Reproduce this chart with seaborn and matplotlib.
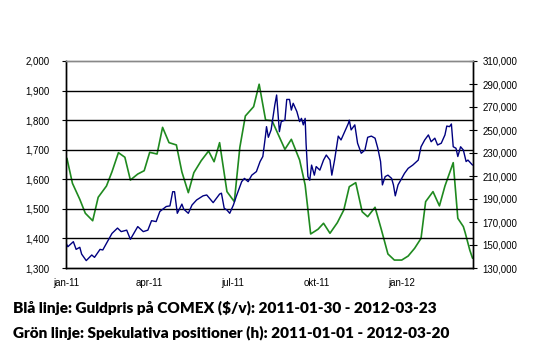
import pandas as pd
import seaborn as sns
import matplotlib.pyplot as plt

# gold price on COMEX ($/oz), days counted from 2011-01-01
gold_days = [0, 2, 8, 11, 15, 17, 22, 28, 31, 37, 40, 50, 56, 60, 66, 70, 78, 84, 89, 93,
             98, 102, 109, 113, 116, 118, 121, 126, 128, 133, 137, 142, 149, 153, 160, 167, 169, 172, 175, 178,
             182, 185, 191, 194, 198, 202, 207, 211, 214, 217, 218, 220, 223, 227, 229, 232, 234, 238, 240, 243,
             245, 247, 251, 254, 256, 258, 260, 261, 263, 265, 267, 270, 272, 276, 280, 283, 287, 289, 292, 296,
             299, 303, 307, 308, 310, 314, 317, 321, 325, 328, 332, 336, 339, 342, 344, 347, 350, 354, 356, 358,
             361, 365, 368, 372, 377, 383, 386, 390, 394, 397, 401, 404, 408, 412, 414, 417, 419, 421, 424, 426,
             429, 432, 435, 437, 442]
gold_price = [1384, 1372, 1389, 1363, 1370, 1347, 1325, 1344, 1336, 1363, 1361, 1417, 1435, 1423, 1428, 1397, 1440, 1423, 1428, 1460,
              1457, 1491, 1508, 1510, 1558, 1558, 1485, 1516, 1499, 1485, 1513, 1530, 1544, 1547, 1521, 1550, 1553, 1502, 1496, 1485,
              1513, 1541, 1592, 1603, 1592, 1614, 1626, 1660, 1677, 1750, 1778, 1742, 1767, 1851, 1885, 1761, 1795, 1800, 1870, 1870,
              1834, 1857, 1829, 1795, 1806, 1784, 1806, 1722, 1609, 1597, 1648, 1614, 1643, 1631, 1665, 1682, 1665, 1614, 1665, 1746,
              1733, 1761, 1789, 1800, 1767, 1784, 1722, 1688, 1699, 1742, 1746, 1739, 1705, 1660, 1581, 1609, 1614, 1603, 1581, 1544,
              1581, 1603, 1620, 1637, 1648, 1665, 1710, 1733, 1750, 1727, 1739, 1716, 1722, 1750, 1780, 1778, 1787, 1710, 1705, 1677,
              1710, 1699, 1660, 1665, 1648]

# speculative positions (contracts), days counted from 2011-01-01
spec_days = [1, 7, 15, 21, 29, 35, 44, 50, 57, 64, 70, 78, 85, 91, 99, 105, 112, 120, 126, 133,
             139, 147, 155, 161, 167, 175, 183, 189, 195, 204, 210, 217, 224, 238, 245, 254, 260, 266, 274, 280,
             287, 295, 302, 308, 315, 322, 328, 336, 343, 350, 357, 365, 372, 379, 386, 391, 399, 406, 412, 421,
             426, 432, 434, 439, 442]
spec_pos = [225400, 203650, 189700, 177600, 171100, 191500, 201300, 213700, 230300, 226300,
            206500, 211700, 214600, 230600, 229100, 252300, 239000, 237000, 213500, 195500,
            212900, 223300, 231700, 222400, 239000, 196400, 187700, 234900, 262200, 270300,
            289800, 258700, 258100, 233200, 241900, 223900, 202200, 159600, 163700, 168900,
            160200, 169400, 180400, 200700, 204200, 178900, 174600, 182800, 163000, 142200,
            136900, 136900, 140400, 147100, 155800, 187700, 196400, 184000, 201300, 221600,
            173200, 166000, 160700, 145600, 138500]

tick_dates = ['2011-01-01', '2011-04-01', '2011-07-01', '2011-10-01', '2012-01-01']
tick_labels = ['jan-11', 'apr-11', 'jul-11', 'okt-11', 'jan-12']

start = pd.Timestamp('2011-01-01')
gold = pd.DataFrame({'date': start + pd.to_timedelta(gold_days, unit='D'), 'price': gold_price})
spec = pd.DataFrame({'date': start + pd.to_timedelta(spec_days, unit='D'), 'pos': spec_pos})

sns.set_style('white')
plt.rcParams['font.family'] = ['Liberation Sans', 'DejaVu Sans']

fig = plt.figure(figsize=(5.38, 3.59), dpi=100)
ax = fig.add_axes([66 / 538, 1 - 268 / 359, (473 - 66) / 538, (268 - 61) / 359])
ax2 = ax.twinx()

sns.lineplot(data=spec, x='date', y='pos', ax=ax2, color='#1f8a1f', linewidth=1.2)
sns.lineplot(data=gold, x='date', y='price', ax=ax, color='#000080', linewidth=1.0)

ax.set_zorder(2)
ax.patch.set_visible(False)

ax.set_xlim(start, start + pd.Timedelta(days=442.5))
ax.set_ylim(1300, 2000)
ax.set_yticks(range(1300, 2001, 100))
ax.set_yticklabels([f'{v:,}' for v in range(1300, 2001, 100)], fontsize=7)
ax.set_xticks(pd.to_datetime(tick_dates))
ax.set_xticklabels(tick_labels, fontsize=7)
ax.set_xlabel('')
ax.set_ylabel('')

ax2.set_ylim(130000, 310000)
ax2.set_yticks(range(130000, 310001, 20000))
ax2.set_yticklabels([f'{v:,}' for v in range(130000, 310001, 20000)], fontsize=7)
ax2.set_ylabel('')

# gridlines follow the left axis
for v in range(1400, 2000, 100):
    ax.axhline(v, color='black', linewidth=1.0, zorder=0)

ax.tick_params(axis='y', direction='out', length=3, width=0.8, pad=9, colors='black')
ax.tick_params(axis='x', direction='out', length=3, width=0.8, pad=4, colors='black')
ax2.tick_params(axis='y', direction='inout', length=6, width=0.8, pad=4, colors='black')

for a in (ax, ax2):
    a.spines['top'].set_color('#888888')
    a.spines['top'].set_linewidth(1.0)
    for s in ('left', 'right', 'bottom'):
        a.spines[s].set_color('black')
        a.spines[s].set_linewidth(1.0)

cap_font = ['Lato', 'Liberation Sans', 'DejaVu Sans']
fig.text(13 / 538, 1 - 308 / 359, 'Blå linje: Guldpris på COMEX ($/v): 2011-01-30 - 2012-03-23',
         fontsize=11.1, fontweight='heavy', family=cap_font, va='center', ha='left', color='black')
fig.text(13 / 538, 1 - 333 / 359, 'Grön linje: Spekulativa positioner (h): 2011-01-01 - 2012-03-20',
         fontsize=11.1, fontweight='heavy', family=cap_font, va='center', ha='left', color='black')

fig.savefig('out.png', dpi=100)
